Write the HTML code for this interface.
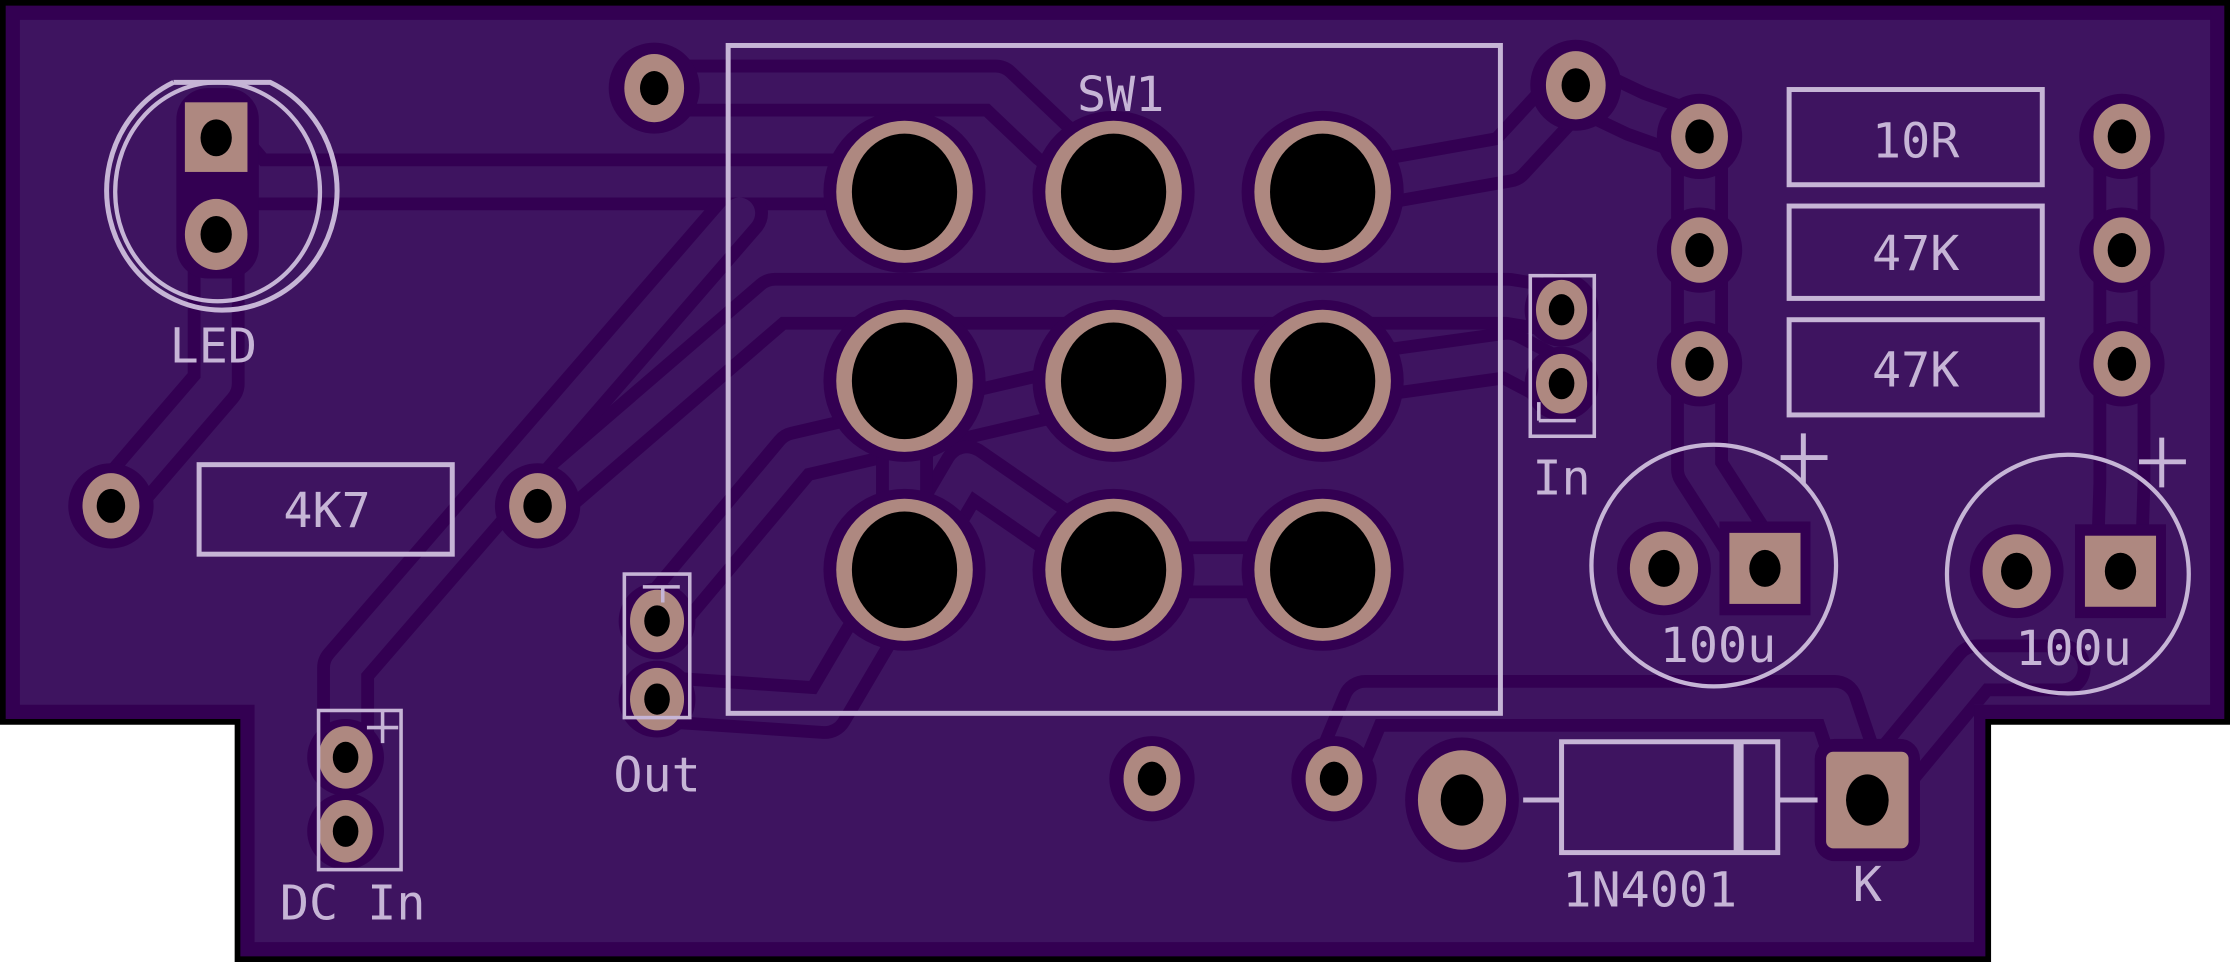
<!DOCTYPE html>
<html><head><meta charset="utf-8"><style>
html,body{margin:0;padding:0;background:#fff;width:2230px;height:962px;overflow:hidden}
svg{display:block}
text{font-family:"DejaVu Sans Mono","Liberation Mono",monospace;fill:#c6b5d6}
</style></head><body>
<svg width="2230" height="962" viewBox="0 0 1568 677" preserveAspectRatio="none" xmlns="http://www.w3.org/2000/svg">
<defs>
<clipPath id="b"><polygon points="14,14 1554,14 1554,496 1388,496 1388,663 179,663 179,496 14,496"/></clipPath>
</defs>
<polygon points="2,2 1566,2 1566,508 1398,508 1398,675 167,675 167,508 2,508" fill="#330052" stroke="#000" stroke-width="4"/>
<polygon points="14,14 1554,14 1554,496 1388,496 1388,663 179,663 179,496 14,496" fill="#3e1460"/>
<g clip-path="url(#b)">
<g fill="none" stroke="#330052" stroke-width="40" stroke-linejoin="round" stroke-linecap="round">
<path d="M152,97 L178,128 L600,128 L636,135"/>
<path d="M152,165 L152,270 L78,356"/>
<path d="M378,356 L545,212 L1060,212 L1098,218"/>
<path d="M460,62 L700,62 L740,100 L783,135"/>
<path d="M1108,60 L1060,112 L930,135"/>
<path d="M1108,60 L1150,80 L1195,96"/>
<path d="M243,533 L243,470 L520,150"/>
<path d="M462,437 L560,320 L783,268"/>
<path d="M462,492 L580,500 L680,330 L783,401"/>
<path d="M930,268 L1060,250 L1098,270"/>
<path d="M636,401 L636,268"/>
<path d="M783,401 L930,401"/>
<path d="M938,548 L960,495 L1290,495 L1313,563"/>
<path d="M1313,563 L1390,470 L1450,470"/>
<path d="M1195,256 L1195,330 L1240,400"/>
<path d="M1195,96 L1195,256"/>
<path d="M1492,96 L1492,256 L1492,340 L1490,402"/>
</g>
<g fill="none" stroke="#3e1460" stroke-width="22" stroke-linejoin="round" stroke-linecap="round">
<path d="M152,97 L178,128 L600,128 L636,135"/>
<path d="M152,165 L152,270 L78,356"/>
<path d="M378,356 L545,212 L1060,212 L1098,218"/>
<path d="M460,62 L700,62 L740,100 L783,135"/>
<path d="M1108,60 L1060,112 L930,135"/>
<path d="M1108,60 L1150,80 L1195,96"/>
<path d="M243,533 L243,470 L520,150"/>
<path d="M462,437 L560,320 L783,268"/>
<path d="M462,492 L580,500 L680,330 L783,401"/>
<path d="M930,268 L1060,250 L1098,270"/>
<path d="M636,401 L636,268"/>
<path d="M783,401 L930,401"/>
<path d="M938,548 L960,495 L1290,495 L1313,563"/>
<path d="M1313,563 L1390,470 L1450,470"/>
<path d="M1195,256 L1195,330 L1240,400"/>
<path d="M1195,96 L1195,256"/>
<path d="M1492,96 L1492,256 L1492,340 L1490,402"/>
</g>
</g>
<g fill="#330052">
<circle cx="460" cy="62" r="32"/><circle cx="1108" cy="60" r="32"/>
<circle cx="78" cy="356" r="30"/><circle cx="378" cy="356" r="30"/>
<circle cx="810" cy="548" r="30"/><circle cx="938" cy="548" r="30"/>
<circle cx="1195" cy="96" r="30"/><circle cx="1195" cy="176" r="30"/><circle cx="1195" cy="256" r="30"/>
<circle cx="1492" cy="96" r="30"/><circle cx="1492" cy="176" r="30"/><circle cx="1492" cy="256" r="30"/>
<circle cx="636" cy="135" r="57"/><circle cx="783" cy="135" r="57"/><circle cx="930" cy="135" r="57"/>
<circle cx="636" cy="268" r="57"/><circle cx="783" cy="268" r="57"/><circle cx="930" cy="268" r="57"/>
<circle cx="636" cy="401" r="57"/><circle cx="783" cy="401" r="57"/><circle cx="930" cy="401" r="57"/>
<ellipse cx="1028" cy="563" rx="40" ry="44"/>
<rect x="1276" y="520" width="74" height="86" rx="14"/>
<circle cx="1170" cy="400" r="33"/><rect x="1209" y="367" width="64" height="66"/>
<circle cx="1418" cy="402" r="33"/><rect x="1459" y="369" width="64" height="66"/>
<rect x="124" y="62" width="58" height="134" rx="22"/>
<circle cx="462" cy="437" r="27"/><circle cx="462" cy="492" r="27"/>
<circle cx="243" cy="533" r="27"/><circle cx="243" cy="585" r="27"/>
<circle cx="1098" cy="218" r="26"/><circle cx="1098" cy="270" r="26"/>
</g>
<g fill="#ae8880">
<ellipse cx="460" cy="62" rx="21" ry="24"/><ellipse cx="1108" cy="60" rx="21" ry="24"/>
<ellipse cx="78" cy="356" rx="20" ry="23"/><ellipse cx="378" cy="356" rx="20" ry="23"/>
<ellipse cx="810" cy="548" rx="20" ry="23"/><ellipse cx="938" cy="548" rx="20" ry="23"/>
<ellipse cx="1195" cy="96" rx="20" ry="23"/><ellipse cx="1195" cy="176" rx="20" ry="23"/><ellipse cx="1195" cy="256" rx="20" ry="23"/>
<ellipse cx="1492" cy="96" rx="20" ry="23"/><ellipse cx="1492" cy="176" rx="20" ry="23"/><ellipse cx="1492" cy="256" rx="20" ry="23"/>
<ellipse cx="636" cy="135" rx="48" ry="50"/><ellipse cx="783" cy="135" rx="48" ry="50"/><ellipse cx="930" cy="135" rx="48" ry="50"/>
<ellipse cx="636" cy="268" rx="48" ry="50"/><ellipse cx="783" cy="268" rx="48" ry="50"/><ellipse cx="930" cy="268" rx="48" ry="50"/>
<ellipse cx="636" cy="401" rx="48" ry="50"/><ellipse cx="783" cy="401" rx="48" ry="50"/><ellipse cx="930" cy="401" rx="48" ry="50"/>
<ellipse cx="1028" cy="563" rx="31" ry="35"/>
<rect x="1284" y="529" width="58" height="68" rx="5"/>
<ellipse cx="1170" cy="400" rx="24" ry="26"/><rect x="1216" y="375" width="50" height="50"/>
<ellipse cx="1418" cy="402" rx="24" ry="26"/><rect x="1466" y="377" width="50" height="50"/>
<rect x="130" y="72" width="44" height="49"/><ellipse cx="152" cy="165" rx="22" ry="25"/>
<ellipse cx="462" cy="437" rx="19" ry="22"/><ellipse cx="462" cy="492" rx="19" ry="22"/>
<ellipse cx="243" cy="533" rx="19" ry="22"/><ellipse cx="243" cy="585" rx="19" ry="22"/>
<ellipse cx="1098" cy="218" rx="18" ry="21"/><ellipse cx="1098" cy="270" rx="18" ry="21"/>
</g>
<g fill="#000">
<ellipse cx="460" cy="62" rx="10" ry="12"/><ellipse cx="1108" cy="60" rx="10" ry="12"/>
<ellipse cx="78" cy="356" rx="10" ry="12"/><ellipse cx="378" cy="356" rx="10" ry="12"/>
<ellipse cx="810" cy="548" rx="10" ry="12"/><ellipse cx="938" cy="548" rx="10" ry="12"/>
<ellipse cx="1195" cy="96" rx="10" ry="12"/><ellipse cx="1195" cy="176" rx="10" ry="12"/><ellipse cx="1195" cy="256" rx="10" ry="12"/>
<ellipse cx="1492" cy="96" rx="10" ry="12"/><ellipse cx="1492" cy="176" rx="10" ry="12"/><ellipse cx="1492" cy="256" rx="10" ry="12"/>
<ellipse cx="636" cy="135" rx="37" ry="41"/><ellipse cx="783" cy="135" rx="37" ry="41"/><ellipse cx="930" cy="135" rx="37" ry="41"/>
<ellipse cx="636" cy="268" rx="37" ry="41"/><ellipse cx="783" cy="268" rx="37" ry="41"/><ellipse cx="930" cy="268" rx="37" ry="41"/>
<ellipse cx="636" cy="401" rx="37" ry="41"/><ellipse cx="783" cy="401" rx="37" ry="41"/><ellipse cx="930" cy="401" rx="37" ry="41"/>
<ellipse cx="1028" cy="563" rx="15" ry="18"/><ellipse cx="1313" cy="563" rx="15" ry="18"/>
<ellipse cx="1170" cy="400" rx="11" ry="13"/><ellipse cx="1241" cy="400" rx="11" ry="13"/>
<ellipse cx="1418" cy="402" rx="11" ry="13"/><ellipse cx="1491" cy="402" rx="11" ry="13"/>
<ellipse cx="152" cy="97" rx="11" ry="13"/><ellipse cx="152" cy="165" rx="11" ry="13"/>
<ellipse cx="462" cy="437" rx="9" ry="11"/><ellipse cx="462" cy="492" rx="9" ry="11"/>
<ellipse cx="243" cy="533" rx="9" ry="11"/><ellipse cx="243" cy="585" rx="9" ry="11"/>
<ellipse cx="1098" cy="218" rx="9" ry="11"/><ellipse cx="1098" cy="270" rx="9" ry="11"/>
</g>
<g fill="none" stroke="#c6b5d6" stroke-width="3.5">
<rect x="512" y="32" width="543" height="470"/>
<path d="M122,58 L190,58 A81,84 0 1 1 122,58"/>
<ellipse cx="153" cy="135" rx="72" ry="77" stroke-width="3"/>
<rect x="140" y="327" width="178" height="63"/>
<rect x="439" y="404" width="46" height="101" stroke-width="2.5"/>
<path d="M452,413 L478,413 M466,413 L466,424" stroke-width="2.5"/>
<rect x="224" y="500" width="58" height="112" stroke-width="2.5"/>
<path d="M258,512 L280,512 M269,501 L269,523" stroke-width="2.5"/>
<rect x="1076" y="194" width="45" height="113" stroke-width="2.5"/>
<path d="M1082,296 L1108,296 M1082,296 L1082,283" stroke-width="2.5"/>
<rect x="1258" y="63" width="178" height="67"/>
<rect x="1258" y="145" width="178" height="65"/>
<rect x="1258" y="225" width="178" height="67"/>
<ellipse cx="1205" cy="398" rx="86" ry="85" stroke-width="3"/>
<path d="M1252,322 L1285,322 M1268,305 L1268,340"/>
<ellipse cx="1454" cy="404" rx="85" ry="84" stroke-width="3"/>
<path d="M1504,325 L1537,325 M1520,308 L1520,343"/>
<rect x="1098" y="522" width="152" height="78"/>
<path d="M1071,563 L1098,563 M1250,563 L1278,563"/>
<rect x="1219" y="522" width="7" height="78" fill="#c6b5d6" stroke="none"/>
</g>
<g font-size="34" text-anchor="middle">
<text x="788" y="78">SW1</text>
<text x="150" y="255">LED</text>
<text x="230" y="371">4K7</text>
<text x="462" y="557">Out</text>
<text x="248" y="647">DC In</text>
<text x="1098" y="348">In</text>
<text x="1347" y="111">10R</text>
<text x="1347" y="190">47K</text>
<text x="1347" y="272">47K</text>
<text x="1208" y="466">100u</text>
<text x="1458" y="468">100u</text>
<text x="1160" y="638">1N4001</text>
<text x="1313" y="634">K</text>
</g>
</svg>
</body></html>
